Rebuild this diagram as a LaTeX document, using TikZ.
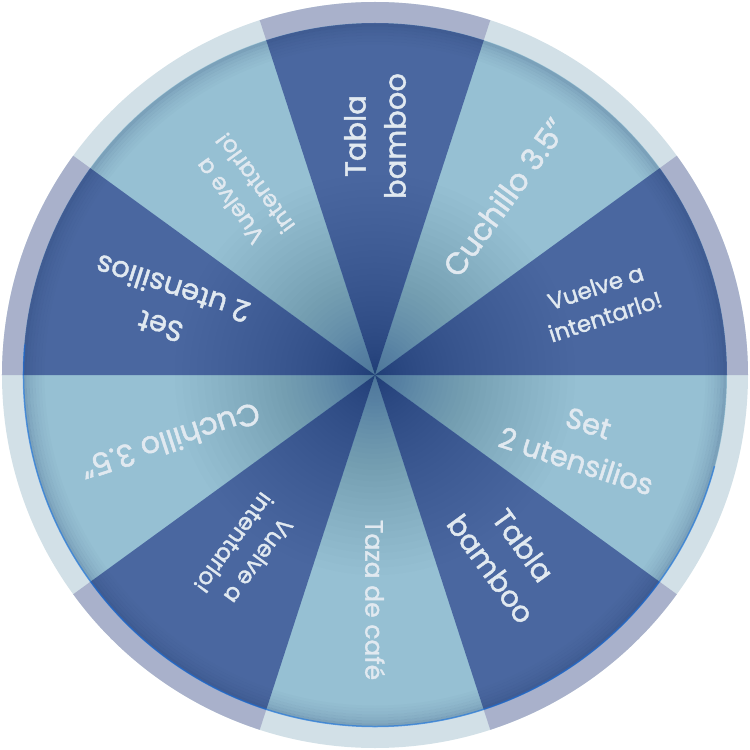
\documentclass[tikz,border=0pt]{standalone}
\usepackage{fontspec}
\setmainfont{Poppins}[FakeBold=1.5]
\usepackage{tikz}

\definecolor{facedark}{RGB}{74,103,160}
\definecolor{facelight}{RGB}{150,192,211}
\definecolor{ringdark}{RGB}{169,177,203}
\definecolor{ringlight}{RGB}{210,224,231}
\definecolor{prizetext}{RGB}{225,233,240}
\definecolor{hubshade}{RGB}{25,65,115}
\definecolor{rimshade}{RGB}{30,55,100}
\definecolor{rimblue}{RGB}{20,110,225}

\tikzset{
  prize/.style={text=prizetext, align=center, inner sep=0pt},
  bigprize/.style={prize, font=\fontsize{29}{40}\selectfont},
  smallprize/.style={prize, font=\fontsize{23}{31}\selectfont}
}

\begin{document}
\begin{tikzpicture}[x=1pt,y=1pt]
  \useasboundingbox (-375,-375) rectangle (375,375);

  % outer ring
  \fill[ringlight] (0,0) circle (373);
  \fill[ringdark] (0,0) -- (0:373) arc (0:36:373) -- cycle;
  \fill[ringdark] (0,0) -- (72:373) arc (72:108:373) -- cycle;
  \fill[ringdark] (0,0) -- (144:373) arc (144:180:373) -- cycle;
  \fill[ringdark] (0,0) -- (216:373) arc (216:252:373) -- cycle;
  \fill[ringdark] (0,0) -- (288:373) arc (288:324:373) -- cycle;

  % wheel face
  \fill[facelight] (0,0) circle (352);
  \fill[facedark] (0,0) -- (0:352) arc (0:36:352) -- cycle;
  \fill[facedark] (0,0) -- (72:352) arc (72:108:352) -- cycle;
  \fill[facedark] (0,0) -- (144:352) arc (144:180:352) -- cycle;
  \fill[facedark] (0,0) -- (216:352) arc (216:252:352) -- cycle;
  \fill[facedark] (0,0) -- (288:352) arc (288:324:352) -- cycle;

  % shadow along the rim
  \foreach \r/\o in {332/0.02, 335/0.04, 338/0.06, 341/0.09, 344/0.12, 347/0.16, 350/0.22}
    \draw[rimshade, line width=3, opacity=\o] (0,0) circle (\r);
  \draw[rimblue, line width=1.5, opacity=0.55] (175:351.5) arc (175:345:351.5);

  % shadow round the hub, softer towards the edge
  \foreach \k in {1,...,45} {
    \pgfmathsetmacro\r{200*(\k/45)^1.7}
    \fill[hubshade, fill opacity=0.016] (0,0) circle (\r);
  }

  % prizes
  \node[smallprize, rotate=18] (vuelve1) at (18:237) {Vuelve a\\intentarlo!};
  \node[prize, font=\fontsize{30.5}{40}\selectfont, rotate=54] (cuchillo1) at (54:220) {Cuchillo 3.5”};
  \node[bigprize, rotate=90] (tabla1) at (90:239) {Tabla\\bamboo};
  \node[smallprize, rotate=126] (vuelve2) at (126:226) {Vuelve a\\intentarlo!};
  \node[bigprize, rotate=162] (set1) at (162:219) {Set\\2 utensilios};
  \node[prize, font=\fontsize{30.5}{40}\selectfont, rotate=198] (cuchillo2) at (198:215) {Cuchillo 3.5”};
  \node[smallprize, rotate=234] (vuelve3) at (234:219) {Vuelve a\\intentarlo!};
  \node[prize, font=\fontsize{25}{33}\selectfont, rotate=270] (taza) at (270:225) {Taza de café};
  \node[bigprize, rotate=306] (tabla2) at (306:225) {Tabla\\bamboo};
  \node[bigprize, rotate=342] (set2) at (342:218) {Set\\2 utensilios};
\end{tikzpicture}
\end{document}
